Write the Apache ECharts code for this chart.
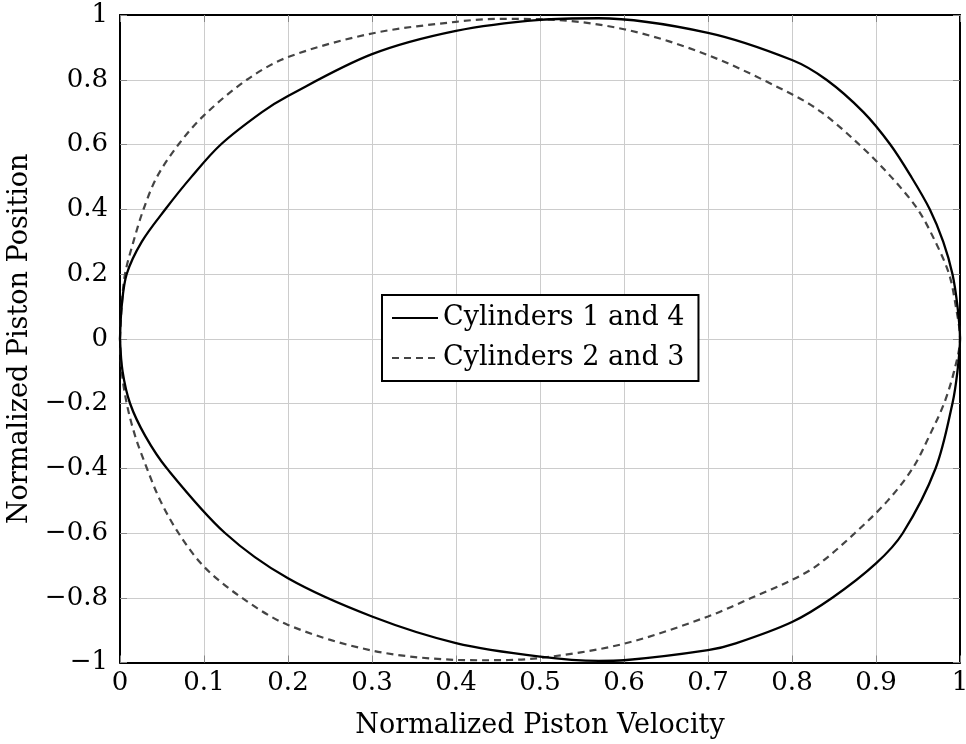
<!DOCTYPE html>
<html>
<head>
<meta charset="utf-8">
<script src="https://cdn.jsdelivr.net/npm/echarts@6/dist/echarts.min.js"></script>
<style>
html,body{margin:0;padding:0;background:#fff;}
#chart{width:966px;height:744px;}
</style>
</head>
<body>
<div id="chart"></div>
<script>
// Data (x: normalized piston velocity, y: normalized piston position)
const seriesNames = ["Cylinders 1 and 4", "Cylinders 2 and 3"];

const cyl14X = [0, 0.002, 0.008, 0.026, 0.054, 0.085, 0.12, 0.169, 0.2, 0.3, 0.4, 0.5, 0.57, 0.7, 0.8, 0.841, 0.885, 0.917, 0.942, 0.964, 0.98, 0.991, 0.997, 1,
                0.997, 0.991, 0.971, 0.932, 0.9, 0.848, 0.8, 0.733, 0.7, 0.6, 0.57, 0.5, 0.4, 0.3, 0.2, 0.125, 0.0557, 0.03, 0.012, 0.003, 0];
const cyl14Y = [0, 0.1, 0.2, 0.3, 0.4, 0.5, 0.6, 0.7, 0.75, 0.879, 0.951, 0.985, 0.99, 0.945, 0.861, 0.8, 0.7, 0.6, 0.5, 0.4, 0.3, 0.2, 0.1, 0,
                -0.1, -0.2, -0.4, -0.6, -0.694, -0.8, -0.875, -0.941, -0.962, -0.993, -0.995, -0.982, -0.94, -0.858, -0.74, -0.6, -0.4, -0.3, -0.2, -0.1, 0];

const cyl23X = [0, 0.002, 0.006, 0.016, 0.028, 0.044, 0.0696, 0.1, 0.151, 0.2, 0.3, 0.4, 0.45, 0.5, 0.6, 0.7, 0.8, 0.835, 0.88, 0.918, 0.9496, 0.9706, 0.987, 0.995, 1,
                0.993, 0.981, 0.9635, 0.9437, 0.914, 0.875, 0.83, 0.8, 0.752, 0.7, 0.6, 0.5, 0.43, 0.4, 0.3, 0.2, 0.145, 0.1, 0.0696, 0.048, 0.032, 0.018, 0.008, 0.002, 0];
const cyl23Y = [0, 0.1, 0.2, 0.3, 0.4, 0.5, 0.6, 0.69, 0.8, 0.87, 0.943, 0.979, 0.988, 0.987, 0.956, 0.876, 0.755, 0.7, 0.6, 0.5, 0.4, 0.3, 0.2, 0.1, 0,
                -0.1, -0.2, -0.3, -0.4, -0.5, -0.6, -0.7, -0.745, -0.8, -0.858, -0.942, -0.986, -0.993, -0.992, -0.963, -0.884, -0.8, -0.704, -0.6, -0.5, -0.4, -0.3, -0.2, -0.1, 0];

const xTicks = [0, 0.1, 0.2, 0.3, 0.4, 0.5, 0.6, 0.7, 0.8, 0.9, 1];
const yTicks = [-1, -0.8, -0.6, -0.4, -0.2, 0, 0.2, 0.4, 0.6, 0.8, 1];
const xTitle = "Normalized Piston Velocity";
const yTitle = "Normalized Piston Position";

const FONT = "DejaVu Serif";
const pairs = (xs, ys) => xs.map((x, i) => [x, ys[i]]);
const fmt = v => {
  const r = Math.round(v * 10) / 10;
  return (r < 0 ? "\u2212" + String(-r) : String(r));
};

const chart = echarts.init(document.getElementById('chart'), null, {renderer: 'canvas'});
const tickStyle = {show: true, inside: true, length: 7, lineStyle: {color: '#888', width: 1}};
const axisLine = {show: true, onZero: false, lineStyle: {color: '#000', width: 2}};
chart.setOption({
  animation: false,
  backgroundColor: '#fff',
  grid: {left: 120, right: 6, top: 15, bottom: 81.5, containLabel: false, outerBoundsMode: 'none'},
  xAxis: [{
    type: 'value', min: 0, max: 1, interval: 0.1, position: 'bottom',
    name: xTitle, nameLocation: 'middle', nameGap: 50,
    nameTextStyle: {fontFamily: FONT, fontSize: 27, color: '#000'},
    axisLine: axisLine, axisTick: tickStyle,
    axisLabel: {fontFamily: FONT, fontSize: 26, color: '#000', margin: 8, formatter: fmt, showMinLabel: true, showMaxLabel: true},
    splitLine: {show: true, lineStyle: {color: '#cccccc', width: 1}}
  }, {
    type: 'value', min: 0, max: 1, interval: 0.1, position: 'top',
    axisLine: axisLine, axisTick: tickStyle, axisLabel: {show: false}, splitLine: {show: false}
  }],
  yAxis: [{
    type: 'value', min: -1, max: 1, interval: 0.2, position: 'left',
    name: yTitle, nameLocation: 'middle', nameGap: 72, nameRotate: 90,
    nameTextStyle: {fontFamily: FONT, fontSize: 27, color: '#000'},
    axisLine: axisLine, axisTick: tickStyle,
    axisLabel: {fontFamily: FONT, fontSize: 26, color: '#000', margin: 12, formatter: fmt, showMinLabel: true, showMaxLabel: true},
    splitLine: {show: true, lineStyle: {color: '#cccccc', width: 1}}
  }, {
    type: 'value', min: -1, max: 1, interval: 0.2, position: 'right',
    axisLine: axisLine, axisTick: tickStyle, axisLabel: {show: false}, splitLine: {show: false}
  }],
  legend: {
    orient: 'vertical', left: 382, top: 295,
    backgroundColor: '#fff', borderColor: '#000', borderWidth: 2, borderRadius: 0,
    padding: [8, 14, 8, 9], itemWidth: 46, itemHeight: 14, itemGap: 10,
    itemStyle: {opacity: 0},
    textStyle: {fontFamily: FONT, fontSize: 27, color: '#000', lineHeight: 30},
    data: seriesNames
  },
  series: [{
    name: seriesNames[0], type: 'line', xAxisIndex: 0, yAxisIndex: 0,
    data: pairs(cyl14X, cyl14Y), smooth: 0.33, symbol: 'none', clip: false,
    lineStyle: {color: '#000', width: 2.3}, itemStyle: {color: '#000'}, z: 3
  }, {
    name: seriesNames[1], type: 'line', xAxisIndex: 0, yAxisIndex: 0,
    data: pairs(cyl23X, cyl23Y), smooth: 0.33, symbol: 'none', clip: false,
    lineStyle: {color: '#444', width: 2.2, type: [7, 5]}, itemStyle: {color: '#444'}, z: 2
  }]
});
</script>
</body>
</html>
